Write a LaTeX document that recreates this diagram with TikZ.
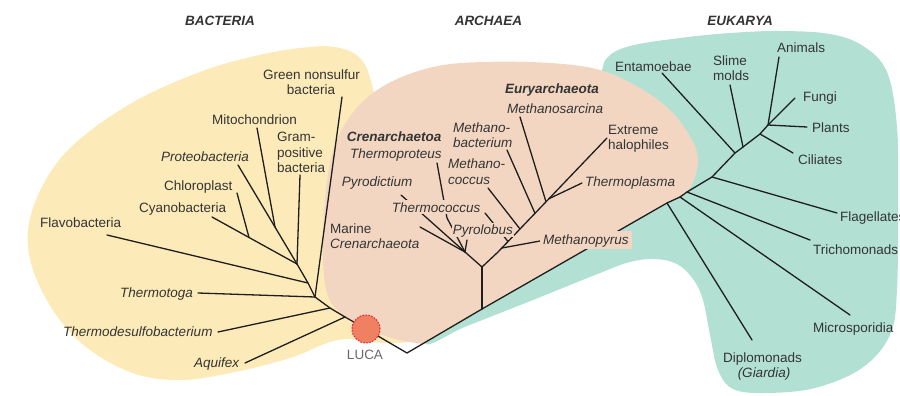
\documentclass[tikz,border=0pt]{standalone}
\usepackage{fontspec}
\setmainfont{Liberation Sans}
\definecolor{bactY}{RGB}{252,234,184}
\definecolor{archP}{RGB}{242,214,194}
\definecolor{eukT}{RGB}{178,225,212}
\definecolor{lucaF}{RGB}{240,128,98}
\definecolor{lucaD}{RGB}{228,38,48}
\definecolor{txt}{RGB}{52,52,52}
\definecolor{lucaT}{RGB}{105,105,105}
\definecolor{ln}{RGB}{30,30,30}
\begin{document}
\begin{tikzpicture}[x=1pt,y=-1pt,
  lab/.style={inner sep=0pt,text height=9.7pt,text depth=0pt,anchor=west,font=\fontsize{13.5}{15.5}\selectfont,text=txt},
  ilab/.style={lab,font=\fontsize{13.5}{15.5}\selectfont\itshape},
  blab/.style={lab,font=\fontsize{13.5}{15.5}\selectfont\bfseries\itshape},
  alab/.style={ilab,fill=archP,inner xsep=1pt,inner ysep=2pt},
  head/.style={lab,anchor=center,font=\fontsize{13.5}{15.5}\selectfont\bfseries\itshape},
  br/.style={draw=ln,line width=1.3pt,line join=round,line cap=round}]
\useasboundingbox (0,0) rectangle (900,396);

% ---------- blobs ----------
\fill[eukT] plot[smooth cycle,tension=0.6] coordinates {(607,58) (630,46) (680,38) (730,33) (780,31) (830,34) (863,46) (887,72) (897,127) (898,200) (897,290) (890,335) (862,368) (815,388) (765,393) (733,389) (718,370) (710,335) (703,300) (693,279) (677,264) (655,259) (630,262) (600,273) (533,300) (467,326) (425,342) (470,270) (560,160) (598,80)};
\fill[bactY] plot[smooth cycle,tension=0.6] coordinates {(300,48) (335,47) (360,58) (372,85) (378,130) (385,250) (405,315) (420,335) (408,342) (383,343) (355,339) (330,342) (290,358) (235,372) (180,380) (130,372) (80,342) (45,297) (28,247) (36,200) (68,150) (130,104) (200,72) (255,56)};
\fill[archP] (687,192) -- (680,197) -- (667,203) -- (482,309) -- (423,344)
  -- plot[smooth,tension=0.6] coordinates {(423,344) (395,339) (366,328) (342,314) (328,296) (323,260) (325,200) (334,148) (355,110) (387,84) (433,67) (483,62) (550,63) (600,70) (640,88) (672,112) (692,140) (698,160) (694,180) (687,192)} -- cycle;

% ---------- tree coordinates ----------
\coordinate (luca) at (366,329);
\coordinate (t1) at (407,353);
\coordinate (aroot) at (482,309);
\coordinate (kdip) at (667,203);
\coordinate (kmic) at (680,197);
\coordinate (ktri) at (687,192);
\coordinate (kfla) at (712,177);
\coordinate (kent) at (735,153);
\coordinate (ksli) at (743,147);
\coordinate (kcil) at (760,134);
\coordinate (ktop) at (768,125);
\coordinate (edip) at (752,340);
\coordinate (emic) at (850,315);
\coordinate (etri) at (810,240);
\coordinate (efla) at (837,213);
\coordinate (eent) at (662,73);
\coordinate (esli) at (730,85);
\coordinate (ecil) at (793,153);
\coordinate (eani) at (779,57);
\coordinate (efun) at (795,98);
\coordinate (epla) at (807,127);
% archaea
\coordinate (ajun) at (482,267);
\coordinate (cren) at (465,252);
\coordinate (eury) at (498,252);
\coordinate (e1) at (508,241.5);
\coordinate (e2) at (520,229);
\coordinate (e3) at (535,213.3);
\coordinate (e4) at (546,201.8);
\coordinate (e5) at (549,198.7);
\coordinate (ehal) at (607,138);
\coordinate (epyr) at (502,248);
\coordinate (lthc) at (485,213);
\coordinate (lmcc) at (488,188);
\coordinate (lmbc) at (507,150);
\coordinate (lmsa) at (520,117);
\coordinate (ltpl) at (582,183);
\coordinate (lmpy) at (540,241);
\coordinate (lmar) at (420,227);
\coordinate (lpyd) at (401,195);
\coordinate (ltpb) at (447,218);
\coordinate (ltpr) at (437,163);
\coordinate (lpyl) at (467,240);
% bacteria
\coordinate (b1) at (345,317);
\coordinate (b2) at (330,308);
\coordinate (b3) at (315,297);
\coordinate (b4) at (308,283);
\coordinate (b5) at (297,264);
\coordinate (bcy) at (249,237.4);
\coordinate (bpr) at (275,227);
\coordinate (laq) at (245,363);
\coordinate (ltds) at (218,332);
\coordinate (ltmt) at (198,293);
\coordinate (lgns) at (342,97);
\coordinate (lfla) at (107,235);
\coordinate (lcya) at (212,217);
\coordinate (lchl) at (237,193);
\coordinate (lpro) at (238,165);
\coordinate (lmit) at (257,128);
\coordinate (lgrm) at (300,175);

% ---------- branches ----------
\draw[br] (luca) -- (t1) -- (aroot) -- (kdip) -- (kmic) -- (ktri) -- (kfla) -- (kent) -- (ksli) -- (kcil) -- (ktop);
\draw[br] (kdip) -- (edip);
\draw[br] (kmic) -- (emic);
\draw[br] (ktri) -- (etri);
\draw[br] (kfla) -- (efla);
\draw[br] (kent) -- (eent);
\draw[br] (ksli) -- (esli);
\draw[br] (kcil) -- (ecil);
\draw[br] (ktop) -- (eani);
\draw[br] (ktop) -- (efun);
\draw[br] (ktop) -- (epla);
% archaea
\draw[br] (aroot) -- (ajun);
\draw[br] (ajun) -- (cren);
\draw[br] (ajun) -- (eury) -- (ehal);
\draw[br] (e1) -- (lthc);
\draw[br] (e2) -- (lmcc);
\draw[br] (e3) -- (lmbc);
\draw[br] (e4) -- (lmsa);
\draw[br] (e5) -- (ltpl);
\draw[br] (epyr) -- (lmpy);
\draw[br] (cren) -- (lmar);
\draw[br] (cren) -- (lpyd);
\draw[br] (cren) -- (ltpb) -- (ltpr);
\draw[br] (cren) -- (lpyl);
% bacteria
\draw[br] (luca) -- (b1) -- (b2) -- (b3) -- (b4) -- (b5);
\draw[br] (b1) -- (laq);
\draw[br] (b2) -- (ltds);
\draw[br] (b3) -- (ltmt);
\draw[br] (b3) -- (lgns);
\draw[br] (b4) -- (lfla);
\draw[br] (b5) -- (lcya);
\draw[br] (bcy) -- (lchl);
\draw[br] (b5) -- (lpro);
\draw[br] (bpr) -- (lmit);
\draw[br] (b5) -- (lgrm);

% ---------- LUCA ----------
\node[circle,minimum size=28pt,inner sep=0pt,fill=lucaF,draw=lucaD,dash pattern=on 1.6pt off 1.4pt,line width=1pt] (lucanode) at (luca) {};
\node[lab,anchor=center,text=lucaT] (lucalab) at (365,355) {LUCA};

% ---------- headers ----------
\node[head] (hb) at (220,20.7) {BACTERIA};
\node[head] (ha) at (488.5,20.7) {ARCHAEA};
\node[head] (he) at (740,21) {EUKARYA};

% ---------- bacteria labels ----------
\node[lab,anchor=center] (tgns1) at (311.5,74.3) {Green nonsulfur};
\node[lab,anchor=center] (tgns2) at (311,90) {bacteria};
\node[lab] (tmit) at (212,120) {Mitochondrion};
\node[lab] (tgrm1) at (277,137) {Gram-};
\node[lab] (tgrm2) at (277,153) {positive};
\node[lab] (tgrm3) at (277,168) {bacteria};
\node[ilab] (tpro) at (161,157) {Proteobacteria};
\node[lab] (tchl) at (164,186) {Chloroplast};
\node[lab] (tcya) at (139,208) {Cyanobacteria};
\node[lab] (tfla) at (40,223) {Flavobacteria};
\node[ilab] (ttmt) at (120,293) {Thermotoga};
\node[ilab] (ttds) at (63,332) {Thermodesulfobacterium};
\node[ilab] (taq) at (194,363) {Aquifex};

% ---------- archaea labels ----------
\node[blab] (teury) at (505,89) {Euryarchaeota};
\node[ilab] (tmsa) at (507,109) {Methanosarcina};
\node[ilab] (tmbc1) at (453,128) {Methano-};
\node[ilab] (tmbc2) at (453,143) {bacterium};
\node[ilab] (tmcc1) at (448,163.3) {Methano-};
\node[ilab] (tmcc2) at (448,179.3) {coccus};
\node[lab] (thal1) at (608,130) {Extreme};
\node[lab] (thal2) at (608,145) {halophiles};
\node[ilab] (ttpl) at (585,182) {Thermoplasma};
\node[alab,inner xsep=3pt,inner ysep=4pt] (tmpy) at (540,240) {Methanopyrus};
\node[blab] (tcren) at (346.7,136.7) {Crenarchaetoa};
\node[ilab] (ttpr) at (350,153.3) {Thermoproteus};
\node[ilab] (tpyd) at (341.7,181.7) {Pyrodictium};
\node[alab] (tthc) at (390.7,207.3) {Thermococcus};
\node[alab] (tpyl) at (451.7,230) {Pyrolobus};
\node[lab] (tmar1) at (330,228.3) {Marine};
\node[ilab] (tmar2) at (330,244) {Crenarchaeota};

% ---------- eukarya labels ----------
\node[lab] (tent) at (615,66.7) {Entamoebae};
\node[lab] (tsli1) at (713,60.7) {Slime};
\node[lab] (tsli2) at (713,76) {molds};
\node[lab] (tani) at (777,47.7) {Animals};
\node[lab] (tfun) at (803,96.7) {Fungi};
\node[lab] (tpla) at (812,128) {Plants};
\node[lab] (tcil) at (798,160) {Ciliates};
\node[lab] (tfla2) at (840,216.7) {Flagellates};
\node[lab] (ttri) at (813,250) {Trichomonads};
\node[lab] (tmic) at (813,328) {Microsporidia};
\node[lab] (tdip1) at (723,358) {Diplomonads};
\node[ilab,anchor=center] (tdip2) at (764,373) {(Giardia)};
\end{tikzpicture}
\end{document}
